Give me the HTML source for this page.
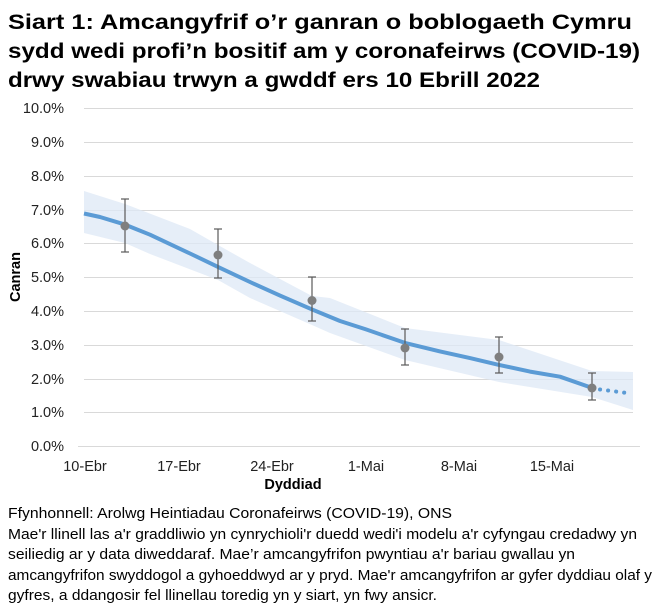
<!DOCTYPE html>
<html><head><meta charset="utf-8"><style>
body{margin:0;background:#fff}
svg{display:block;font-family:"Liberation Sans",Arial,sans-serif}
</style></head><body>
<svg width="661" height="615" viewBox="0 0 661 615" xmlns="http://www.w3.org/2000/svg">
<g font-weight="bold" font-size="21" fill="#000">
<text x="8" y="29" textLength="624" lengthAdjust="spacingAndGlyphs">Siart 1: Amcangyfrif o’r ganran o boblogaeth Cymru</text>
<text x="8" y="58" textLength="632" lengthAdjust="spacingAndGlyphs">sydd wedi profi’n bositif am y coronafeirws (COVID-19)</text>
<text x="8" y="87" textLength="532" lengthAdjust="spacingAndGlyphs">drwy swabiau trwyn a gwddf ers 10 Ebrill 2022</text>
</g>
<g stroke="#d9d9d9" stroke-width="1">
<line x1="84" x2="633" y1="108.5" y2="108.5"/>
<line x1="84" x2="633" y1="142.5" y2="142.5"/>
<line x1="84" x2="633" y1="176.5" y2="176.5"/>
<line x1="84" x2="633" y1="210.5" y2="210.5"/>
<line x1="84" x2="633" y1="243.5" y2="243.5"/>
<line x1="84" x2="633" y1="277.5" y2="277.5"/>
<line x1="84" x2="633" y1="311.5" y2="311.5"/>
<line x1="84" x2="633" y1="345.5" y2="345.5"/>
<line x1="84" x2="633" y1="379.5" y2="379.5"/>
<line x1="84" x2="633" y1="412.5" y2="412.5"/>
<line x1="78" x2="640" y1="446.5" y2="446.5"/>
</g>
<g font-size="14.5" fill="#222" text-anchor="end">
<text x="64" y="113">10.0%</text><text x="64" y="147">9.0%</text><text x="64" y="181">8.0%</text>
<text x="64" y="215">7.0%</text><text x="64" y="248">6.0%</text><text x="64" y="282">5.0%</text>
<text x="64" y="316">4.0%</text><text x="64" y="350">3.0%</text><text x="64" y="384">2.0%</text>
<text x="64" y="417">1.0%</text><text x="64" y="451">0.0%</text>
</g>
<g font-size="14.5" fill="#222" text-anchor="middle">
<text x="85" y="471">10-Ebr</text><text x="179" y="471">17-Ebr</text><text x="272" y="471">24-Ebr</text>
<text x="366" y="471">1-Mai</text><text x="459" y="471">8-Mai</text><text x="552" y="471">15-Mai</text>
<text x="293" y="489" font-weight="bold" fill="#000">Dyddiad</text>
</g>
<text transform="translate(20,277) rotate(-90)" font-size="14.5" font-weight="bold" text-anchor="middle">Canran</text>
<!-- band -->
<path fill="#dde8f5" opacity="0.75" d="M84,191 L125,204 L190,229 L218,245 L250,263 L312,296 L330,298 L405,328 L499,340 L592,371 L633,372 L633,410 L592,397 L499,382 L405,360 L330,333 L312,325 L250,298 L218,280 L150,254 L125,243 L84,233 Z"/>
<!-- line -->
<path fill="none" stroke="#5b9bd5" stroke-width="4" stroke-linejoin="round" d="M84,213.5 L100,217 L125,224.6 L150,234.7 L190,253.5 L218,266.9 L250,282 L280,295.6 L312,309.4 L340,321 L366,329.4 L405,342.9 L440,351.4 L470,358.1 L499,364.9 L530,371.6 L560,376.7 L592,387.9"/>
<path fill="none" stroke="#5b9bd5" stroke-width="4" stroke-linecap="round" stroke-dasharray="0.1 8" d="M600,389.5 L632,393.6"/>
<!-- error bars -->
<g stroke="#595959" stroke-width="1.2">
<line x1="125" x2="125" y1="199" y2="252"/><line x1="121" x2="129" y1="199" y2="199"/><line x1="121" x2="129" y1="252" y2="252"/>
<line x1="218" x2="218" y1="229" y2="278"/><line x1="214" x2="222" y1="229" y2="229"/><line x1="214" x2="222" y1="278" y2="278"/>
<line x1="312" x2="312" y1="277" y2="321"/><line x1="308" x2="316" y1="277" y2="277"/><line x1="308" x2="316" y1="321" y2="321"/>
<line x1="405" x2="405" y1="329" y2="365"/><line x1="401" x2="409" y1="329" y2="329"/><line x1="401" x2="409" y1="365" y2="365"/>
<line x1="499" x2="499" y1="337" y2="373"/><line x1="495" x2="503" y1="337" y2="337"/><line x1="495" x2="503" y1="373" y2="373"/>
<line x1="592" x2="592" y1="373" y2="400"/><line x1="588" x2="596" y1="373" y2="373"/><line x1="588" x2="596" y1="400" y2="400"/>
</g>
<g fill="#7f7f7f">
<circle cx="125" cy="226" r="4.5"/><circle cx="218" cy="255" r="4.5"/><circle cx="312" cy="300.5" r="4.5"/>
<circle cx="405" cy="348" r="4.5"/><circle cx="499" cy="357" r="4.5"/><circle cx="592" cy="388" r="4.5"/>
</g>
<g font-size="14.5" fill="#000">
<text x="8" y="518" textLength="444" lengthAdjust="spacingAndGlyphs">Ffynhonnell: Arolwg Heintiadau Coronafeirws (COVID-19), ONS</text>
<text x="8" y="539" textLength="629" lengthAdjust="spacingAndGlyphs">Mae'r llinell las a'r graddliwio yn cynrychioli'r duedd wedi'i modelu a'r cyfyngau credadwy yn</text>
<text x="8" y="559" textLength="567" lengthAdjust="spacingAndGlyphs">seiliedig ar y data diweddaraf. Mae’r amcangyfrifon pwyntiau a'r bariau gwallau yn</text>
<text x="8" y="580" textLength="644" lengthAdjust="spacingAndGlyphs">amcangyfrifon swyddogol a gyhoeddwyd ar y pryd. Mae'r amcangyfrifon ar gyfer dyddiau olaf y</text>
<text x="8" y="600" textLength="429" lengthAdjust="spacingAndGlyphs">gyfres, a ddangosir fel llinellau toredig yn y siart, yn fwy ansicr.</text>
</g>
</svg>
</body></html>
